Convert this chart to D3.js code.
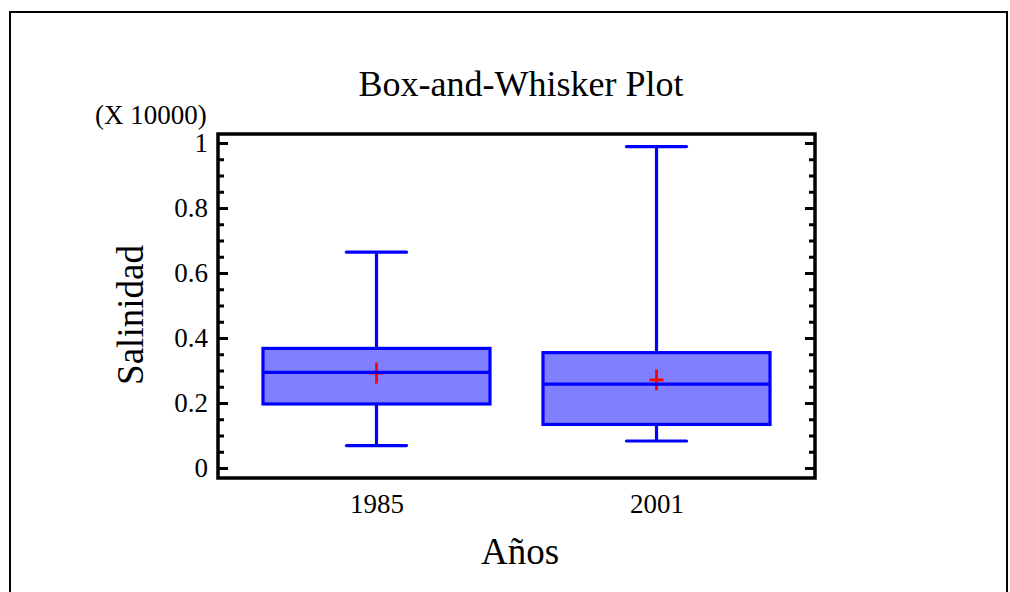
<!doctype html>
<html lang="en">
<head>
  <meta charset="utf-8" />
  <title>Box-and-Whisker Plot</title>
  <script src="https://d3js.org/d3.v7.min.js"></script>
  <style>
    body { margin: 0; background: #fff; }
    text { font-family: "Liberation Serif", "Times New Roman", serif; fill: #000; }
  </style>
</head>
<body>
<script type="text/javascript">

  // data (values in units of 10000)
  var years = ["1985", "2001"];
  var whiskerLow = [0.069, 0.083];
  var q1 = [0.197, 0.134];
  var median = [0.294, 0.258];
  var q3 = [0.368, 0.355];
  var whiskerHigh = [0.664, 0.989];
  var means = [0.292, 0.271];

  var yTicks = [0, 0.2, 0.4, 0.6, 0.8, 1];
  var yTickLabels = ["0", "0.2", "0.4", "0.6", "0.8", "1"];
  var yMinorTicks = d3.range(0, 1.0001, 0.05);

  var width = 1010, height = 592;
  var plot = { left: 218, right: 815, top: 134, bottom: 478 };

  var svg = d3.select("body").append("svg")
    .attr("width", width)
    .attr("height", height);

  // outer frame
  svg.append("rect")
    .attr("x", 10).attr("y", 12)
    .attr("width", 997).attr("height", 620)
    .attr("fill", "none")
    .attr("stroke", "#000")
    .attr("stroke-width", 2);

  var x = d3.scalePoint()
    .domain(years)
    .range([plot.left, plot.right])
    .padding(0.566);

  var y = d3.scaleLinear()
    .domain([-0.0308, 1.0277])
    .range([plot.bottom, plot.top]);

  var boxW = 227, capW = 60;

  var boxes = svg.append("g").attr("class", "boxes");

  years.forEach(function(yr, i) {
    var cx = x(yr);
    var g = boxes.append("g");

    // whiskers
    g.append("line")
      .attr("x1", cx).attr("x2", cx)
      .attr("y1", y(whiskerHigh[i])).attr("y2", y(q3[i]))
      .attr("stroke", "#0000ff").attr("stroke-width", 3.2);
    g.append("line")
      .attr("x1", cx).attr("x2", cx)
      .attr("y1", y(q1[i])).attr("y2", y(whiskerLow[i]))
      .attr("stroke", "#0000ff").attr("stroke-width", 3.2);
    [whiskerHigh[i], whiskerLow[i]].forEach(function(v) {
      g.append("line")
        .attr("x1", cx - capW / 2).attr("x2", cx + capW / 2)
        .attr("y1", y(v)).attr("y2", y(v))
        .attr("stroke", "#0000ff").attr("stroke-width", 3.2)
        .attr("stroke-linecap", "round");
    });

    // box
    g.append("rect")
      .attr("x", cx - boxW / 2)
      .attr("y", y(q3[i]))
      .attr("width", boxW)
      .attr("height", y(q1[i]) - y(q3[i]))
      .attr("fill", "#8080ff")
      .attr("stroke", "#0000ff")
      .attr("stroke-width", 3.2);

    // mean cross
    var my = y(means[i]);
    g.append("line")
      .attr("x1", cx - 7).attr("x2", cx + 7)
      .attr("y1", my).attr("y2", my)
      .attr("stroke", "#ff0000").attr("stroke-width", 2.8);
    g.append("line")
      .attr("x1", cx).attr("x2", cx)
      .attr("y1", my - 10.5).attr("y2", my + 10.5)
      .attr("stroke", "#ff0000").attr("stroke-width", 2.8);

    // median
    g.append("line")
      .attr("x1", cx - boxW / 2).attr("x2", cx + boxW / 2)
      .attr("y1", y(median[i])).attr("y2", y(median[i]))
      .attr("stroke", "#0000ff").attr("stroke-width", 3.2);
  });

  // axes, ticks pointing inward
  var yAxis = d3.axisLeft(y)
    .tickValues(yTicks)
    .tickFormat(function(d, i) { return yTickLabels[i]; })
    .tickSizeInner(-10)
    .tickSizeOuter(0)
    .tickPadding(10);

  var yMinor = d3.axisLeft(y)
    .tickValues(yMinorTicks)
    .tickFormat("")
    .tickSizeInner(-6)
    .tickSizeOuter(0);

  var yAxisR = d3.axisRight(y)
    .tickValues(yTicks)
    .tickFormat("")
    .tickSizeInner(-10)
    .tickSizeOuter(0);

  var yMinorR = d3.axisRight(y)
    .tickValues(yMinorTicks)
    .tickFormat("")
    .tickSizeInner(-6)
    .tickSizeOuter(0);

  function styleAxis(sel) {
    sel.select(".domain").remove();
    sel.selectAll(".tick line").attr("stroke", "#000").attr("stroke-width", 3);
    sel.selectAll(".tick text")
      .style("font-family", '"Liberation Serif", "Times New Roman", serif')
      .style("font-size", "27px")
      .attr("fill", "#000");
  }

  svg.append("g").attr("transform", "translate(" + plot.left + ",0)").call(yMinor).call(styleAxis);
  svg.append("g").attr("transform", "translate(" + plot.left + ",0)").call(yAxis).call(styleAxis);
  svg.append("g").attr("transform", "translate(" + plot.right + ",0)").call(yMinorR).call(styleAxis);
  svg.append("g").attr("transform", "translate(" + plot.right + ",0)").call(yAxisR).call(styleAxis);

  var xAxis = d3.axisBottom(x)
    .tickSize(0)
    .tickPadding(16);
  svg.append("g")
    .attr("transform", "translate(0," + plot.bottom + ")")
    .call(xAxis)
    .call(styleAxis);

  // plot frame
  svg.append("rect")
    .attr("x", plot.left).attr("y", plot.top)
    .attr("width", plot.right - plot.left)
    .attr("height", plot.bottom - plot.top)
    .attr("fill", "none")
    .attr("stroke", "#000")
    .attr("stroke-width", 3.5);

  // titles
  svg.append("text")
    .attr("x", 521).attr("y", 96)
    .attr("text-anchor", "middle")
    .style("font-size", "36px")
    .text("Box-and-Whisker Plot");

  svg.append("text")
    .attr("x", 95).attr("y", 124)
    .style("font-size", "27px")
    .text("(X 10000)");

  svg.append("text")
    .attr("transform", "translate(143,315) rotate(-90)")
    .attr("text-anchor", "middle")
    .style("font-size", "37px")
    .text("Salinidad");

  svg.append("text")
    .attr("x", 520).attr("y", 564)
    .attr("text-anchor", "middle")
    .style("font-size", "37px")
    .text("Años");

</script>
</body>
</html>
